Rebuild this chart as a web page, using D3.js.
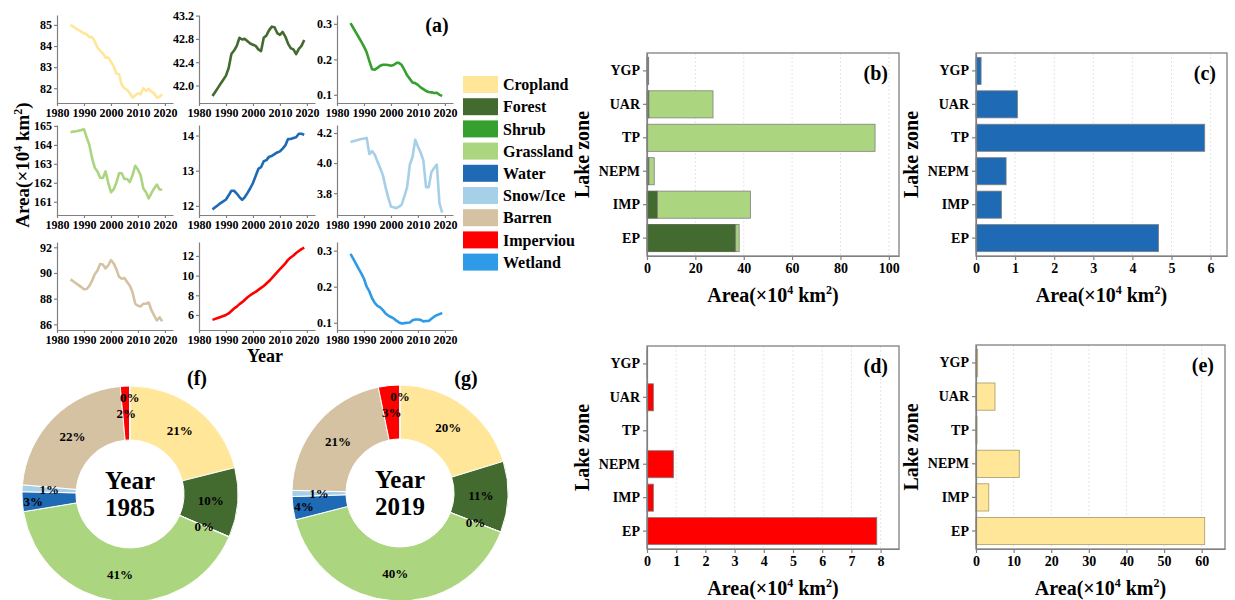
<!DOCTYPE html>
<html lang="en">
<head>
<meta charset="UTF-8">
<title>Land cover area by class and lake zone</title>
<script src="https://d3js.org/d3.v7.min.js"></script>
<style>
  body { margin: 0; background: #fff; }
  svg text { font-family: "Liberation Serif", "Times New Roman", serif; font-weight: bold; fill: #000; }
  .axis path, .axis line { stroke: #808080; stroke-width: 1.2px; }
  .axis text { font-size: 12px; }
  .baxis text { font-size: 14px; }
  .grid line { stroke: #e6e6e6; stroke-dasharray: 2,2; }
</style>
</head>
<body>
<div id="chart"></div>
<script>
// ---- data -------------------------------------------------------------
const classes = ["Cropland", "Forest", "Shrub", "Grassland", "Water", "Snow/Ice", "Barren", "Imperviou", "Wetland"];
const classColors = ["#ffe699", "#436b30", "#35a02d", "#acd580", "#1e6ab5", "#a6cfe8", "#d5c2a3", "#ff0000", "#2f9be8"];

const years = [1985, 1986, 1987, 1988, 1989, 1990, 1991, 1992, 1993, 1994, 1995, 1996,
  1997, 1998, 1999, 2000, 2001, 2002, 2003, 2004, 2005, 2006, 2007, 2008, 2009, 2010,
  2011, 2012, 2013, 2014, 2015, 2016, 2017, 2018, 2019];

// area, x10^4 km2
const cropland = [85.0, 84.92, 84.84, 84.76, 84.68, 84.6, 84.56, 84.42, 84.42, 84.21, 83.93, 83.77,
  83.66, 83.45, 83.45, 83.26, 83.03, 82.7, 82.66, 82.16, 82.0, 81.92, 81.76, 81.56, 81.65, 81.76,
  81.71, 82.0, 81.87, 81.97, 81.84, 81.76, 81.56, 81.6, 81.71];
const forest = [41.82, 41.89, 41.96, 42.03, 42.1, 42.17, 42.3, 42.54, 42.6, 42.68, 42.82, 42.79,
  42.8, 42.76, 42.72, 42.7, 42.68, 42.62, 42.59, 42.82, 42.86, 42.95, 43.01, 43.0, 42.9, 42.87,
  42.92, 42.84, 42.72, 42.64, 42.62, 42.54, 42.63, 42.68, 42.78];
const shrub = [0.302, 0.289, 0.276, 0.263, 0.25, 0.236, 0.22, 0.195, 0.172, 0.171, 0.176, 0.182,
  0.185, 0.185, 0.184, 0.182, 0.184, 0.19, 0.19, 0.184, 0.17, 0.155, 0.145, 0.135, 0.133, 0.128,
  0.121, 0.116, 0.111, 0.108, 0.107, 0.105, 0.106, 0.1, 0.097];
const grassland = [164.67, 164.7, 164.72, 164.75, 164.78, 164.82, 164.4, 164.0, 163.3, 162.8, 162.6, 162.27,
  162.25, 162.6, 162.0, 161.5, 161.65, 162.0, 162.5, 162.5, 162.2, 162.2, 162.04, 162.4, 162.9, 162.7,
  162.4, 161.7, 161.5, 161.17, 161.45, 161.7, 161.9, 161.65, 161.63];
const water = [11.9, 11.96, 12.02, 12.08, 12.13, 12.18, 12.3, 12.43, 12.43, 12.35, 12.25, 12.17,
  12.25, 12.37, 12.5, 12.65, 12.85, 13.05, 13.1, 13.27, 13.3, 13.4, 13.42, 13.47, 13.52, 13.55,
  13.63, 13.72, 13.9, 13.9, 13.93, 13.95, 14.05, 14.05, 14.02];
const snowIce = [4.14, 4.145, 4.15, 4.155, 4.16, 4.163, 4.167, 4.06, 4.08, 4.055, 4.01, 3.967,
  3.92, 3.84, 3.77, 3.71, 3.707, 3.70, 3.71, 3.725, 3.78, 3.84, 3.99, 4.04, 4.155, 4.11,
  4.07, 4.02, 3.84, 3.84, 3.94, 3.967, 3.99, 3.73, 3.67];
const barren = [89.5, 89.35, 89.2, 89.05, 88.9, 88.73, 88.75, 89.0, 89.4, 89.9, 90.2, 90.7,
  90.65, 90.35, 90.6, 91.0, 90.75, 90.3, 89.7, 89.55, 89.6, 89.3, 89.0, 88.5, 87.6, 87.45,
  87.4, 87.6, 87.6, 87.7, 87.1, 86.7, 86.3, 86.55, 86.25];
const impervious = [5.5, 5.6, 5.7, 5.8, 5.9, 6.0, 6.15, 6.4, 6.65, 6.85, 7.1, 7.3,
  7.55, 7.8, 8.0, 8.2, 8.35, 8.55, 8.75, 8.95, 9.2, 9.45, 9.75, 10.05, 10.35, 10.65,
  10.95, 11.25, 11.6, 11.85, 12.05, 12.3, 12.5, 12.7, 12.85];
const wetland = [0.291, 0.278, 0.264, 0.25, 0.237, 0.222, 0.2, 0.187, 0.168, 0.155, 0.147, 0.143,
  0.135, 0.126, 0.12, 0.116, 0.112, 0.106, 0.101, 0.098, 0.099, 0.1, 0.101, 0.107, 0.109, 0.109,
  0.108, 0.104, 0.105, 0.105, 0.111, 0.117, 0.121, 0.124, 0.127];

const seriesList = [cropland, forest, shrub, grassland, water, snowIce, barren, impervious, wetland];
const yLimits = [[81.3, 85.47], [41.7, 43.21], [0.077, 0.325], [160.3, 165.05], [11.74, 14.3],
  [3.655, 4.253], [85.56, 92.41], [4.47, 13.42], [0.08, 0.324]];
const yTicks = [[82, 83, 84, 85], [42.0, 42.4, 42.8, 43.2], [0.1, 0.2, 0.3], [161, 162, 163, 164, 165],
  [12, 13, 14], [3.8, 4.0, 4.2], [86, 88, 90, 92], [6, 8, 10, 12], [0.1, 0.2, 0.3]];
const yFormats = [".0f", ".1f", ".1f", ".0f", ".0f", ".1f", ".0f", ".0f", ".1f"];
const yearTicks = [1980, 1990, 2000, 2010, 2020];

// lake zones
const zones = ["YGP", "UAR", "TP", "NEPM", "IMP", "EP"];
const forestZone = [0.5, 0.8, 0.2, 0.8, 4.3, 36.7];
const grassZone = [0.2, 26.5, 94.1, 2.2, 38.5, 1.4];
const waterZone = [0.13, 1.06, 5.85, 0.77, 0.65, 4.67];
const impervZone = [0.01, 0.22, 0, 0.91, 0.22, 7.87];
const cropZone = [0.45, 5.05, 0.27, 11.5, 3.4, 60.8];

// donut labels as printed
const pieLabels1985 = ["21%", "10%", "0%", "41%", "3%", "1%", "22%", "2%", "0%"];
const pieLabels2019 = ["20%", "11%", "0%", "40%", "4%", "1%", "21%", "3%", "0%"];

// ---- svg --------------------------------------------------------------
const svg = d3.select("#chart").append("svg")
  .attr("width", 1235)
  .attr("height", 600);

// ---- (a) small multiples ---------------------------------------------
const colX = [57, 199, 337];
const rowY = [[15, 103], [125, 215], [242, 330]];
const panelW = 116;

seriesList.forEach((vals, i) => {
  const col = i % 3, row = Math.floor(i / 3);
  const x = d3.scaleLinear().domain([1980, 2023]).range([colX[col], colX[col] + panelW]);
  const y = d3.scaleLinear().domain(yLimits[i]).range([rowY[row][1], rowY[row][0]]);

  svg.append("g")
    .attr("class", "axis")
    .attr("transform", `translate(0,${rowY[row][1]})`)
    .call(d3.axisBottom(x).tickValues(yearTicks).tickFormat(d3.format("d")).tickSize(3).tickSizeOuter(0).tickPadding(2));

  svg.append("g")
    .attr("class", "axis")
    .attr("transform", `translate(${colX[col]},0)`)
    .call(d3.axisLeft(y).tickValues(yTicks[i]).tickFormat(d3.format(yFormats[i])).tickSize(3).tickSizeOuter(0).tickPadding(2));

  svg.append("path")
    .datum(vals)
    .attr("fill", "none")
    .attr("stroke", classColors[i])
    .attr("stroke-width", 2.6)
    .attr("stroke-linejoin", "round")
    .attr("d", d3.line().x((d, j) => x(years[j])).y(d => y(d)));
});

svg.append("text")
  .attr("x", 265).attr("y", 362)
  .attr("text-anchor", "middle")
  .style("font-size", "18px")
  .text("Year");

svg.append("text")
  .attr("x", 437).attr("y", 32)
  .attr("text-anchor", "middle")
  .style("font-size", "20px")
  .text("(a)");

// "Area(×10^4 km^2)" title with superscripts
function areaTitle(sel, size) {
  const sup = Math.round(size * 0.62);
  const up = -Math.round(size * 0.38);
  sel.append("tspan").text("Area(×10");
  sel.append("tspan").attr("dy", up).style("font-size", sup + "px").text("4");
  sel.append("tspan").attr("dy", -up).text(" km");
  sel.append("tspan").attr("dy", up).style("font-size", sup + "px").text("2");
  sel.append("tspan").attr("dy", -up).text(")");
}

svg.append("text")
  .attr("transform", "translate(29,165) rotate(-90)")
  .attr("text-anchor", "middle")
  .style("font-size", "19px")
  .call(areaTitle, 19);

// legend
const legend = svg.append("g");
classes.forEach((c, i) => {
  const cy = 84.5 + i * 22.2;
  legend.append("rect")
    .attr("x", 463).attr("y", cy - 8.5)
    .attr("width", 35).attr("height", 17)
    .attr("fill", classColors[i]);
  legend.append("text")
    .attr("x", 503).attr("y", cy)
    .attr("dy", "0.35em")
    .style("font-size", "16px")
    .text(c);
});

// ---- (b)-(e) bar panels ----------------------------------------------
function barPanel(p) {
  const x = d3.scaleLinear().domain([0, p.xMax]).range([p.left, p.left + p.width]);
  const y = d3.scaleBand().domain(zones).range([p.top, p.top + p.height])
    .paddingInner(0.19).paddingOuter(0.13);
  const g = svg.append("g");

  g.append("g")
    .attr("class", "grid")
    .selectAll("line")
    .data(p.ticks.slice(1))
    .join("line")
    .attr("x1", d => x(d)).attr("x2", d => x(d))
    .attr("y1", p.top).attr("y2", p.top + p.height);

  p.stacks.forEach(s => {
    g.append("g")
      .selectAll("rect")
      .data(zones)
      .join("rect")
      .attr("x", (d, j) => x(s.base ? s.base[j] : 0))
      .attr("y", d => y(d))
      .attr("width", (d, j) => x(s.values[j]) - x(0))
      .attr("height", y.bandwidth())
      .attr("fill", s.color)
      .attr("stroke", (d, j) => s.values[j] > 0 ? s.stroke : "none")
      .attr("stroke-width", 0.8);
  });

  g.append("g")
    .attr("class", "axis baxis")
    .attr("transform", `translate(0,${p.top + p.height})`)
    .call(d3.axisBottom(x).tickValues(p.ticks).tickFormat(d3.format("d")).tickSize(4).tickSizeOuter(0).tickPadding(3));

  g.append("g")
    .attr("class", "axis baxis")
    .attr("transform", `translate(${p.left},0)`)
    .call(d3.axisLeft(y).tickSize(4).tickSizeOuter(0).tickPadding(3));

  g.append("rect")
    .attr("x", p.left).attr("y", p.top)
    .attr("width", p.width).attr("height", p.height)
    .attr("fill", "none")
    .attr("stroke", "#808080")
    .attr("stroke-width", 1.3);

  g.append("text")
    .attr("x", p.left + p.width - 11).attr("y", p.top + 27)
    .attr("text-anchor", "end")
    .style("font-size", "20px")
    .text(p.label);

  g.append("text")
    .attr("transform", `translate(${p.left - 58},${p.top + p.height / 2}) rotate(-90)`)
    .attr("text-anchor", "middle")
    .style("font-size", "20px")
    .text("Lake zone");

  g.append("text")
    .attr("x", p.left + p.width / 2).attr("y", p.top + p.height + 46)
    .attr("text-anchor", "middle")
    .style("font-size", "20px")
    .call(areaTitle, 20);
}

barPanel({
  left: 647, top: 53, width: 252, height: 203, xMax: 104.2,
  ticks: [0, 20, 40, 60, 80, 100], label: "(b)",
  stacks: [
    { values: forestZone, color: classColors[1], stroke: "#4f5f45" },
    { values: grassZone, base: forestZone, color: classColors[3], stroke: "#7f7f7f" }
  ]
});
barPanel({
  left: 976, top: 53, width: 251, height: 203, xMax: 6.42,
  ticks: [0, 1, 2, 3, 4, 5, 6], label: "(c)",
  stacks: [{ values: waterZone, color: classColors[4], stroke: "#7f7f7f" }]
});
barPanel({
  left: 647, top: 346, width: 252, height: 203, xMax: 8.63,
  ticks: [0, 1, 2, 3, 4, 5, 6, 7, 8], label: "(d)",
  stacks: [{ values: impervZone, color: classColors[7], stroke: "#7f7f7f" }]
});
barPanel({
  left: 976, top: 345, width: 249, height: 204, xMax: 66.2,
  ticks: [0, 10, 20, 30, 40, 50, 60], label: "(e)",
  stacks: [{ values: cropZone, color: classColors[0], stroke: "#a89a62" }]
});

// ---- (f), (g) donuts -------------------------------------------------
const labelOut = new Set(["Water", "Wetland"]);
const pie = d3.pie().sort(null).value(d => d);
const arc = d3.arc().innerRadius(54).outerRadius(108);

function donut(cx, cy, vals, labels, yearText, tag, tagX) {
  const g = svg.append("g").attr("transform", `translate(${cx},${cy})`);
  const arcs = pie(vals);
  g.selectAll("path")
    .data(arcs)
    .join("path")
    .attr("d", arc)
    .attr("fill", (d, i) => classColors[i])
    .attr("stroke", "#fff")
    .attr("stroke-width", 1);

  g.selectAll("text.pct")
    .data(arcs)
    .join("text")
    .attr("class", "pct")
    .attr("x", (d, i) => (labelOut.has(classes[i]) ? 97 : 81) * Math.sin((d.startAngle + d.endAngle) / 2))
    .attr("y", (d, i) => -(labelOut.has(classes[i]) ? 97 : 81) * Math.cos((d.startAngle + d.endAngle) / 2))
    .attr("dy", "0.35em")
    .attr("text-anchor", "middle")
    .style("font-size", "13px")
    .text((d, i) => labels[i]);

  g.append("text").attr("y", -5).attr("text-anchor", "middle")
    .style("font-size", "25px").text("Year");
  g.append("text").attr("y", 22).attr("text-anchor", "middle")
    .style("font-size", "25px").text(yearText);

  svg.append("text")
    .attr("x", tagX).attr("y", 385)
    .attr("text-anchor", "middle")
    .style("font-size", "20px")
    .text(tag);
}

donut(130, 494, seriesList.map(s => s[0]), pieLabels1985, "1985", "(f)", 197);
donut(400, 493, seriesList.map(s => s[s.length - 1]), pieLabels2019, "2019", "(g)", 466);
</script>
</body>
</html>
